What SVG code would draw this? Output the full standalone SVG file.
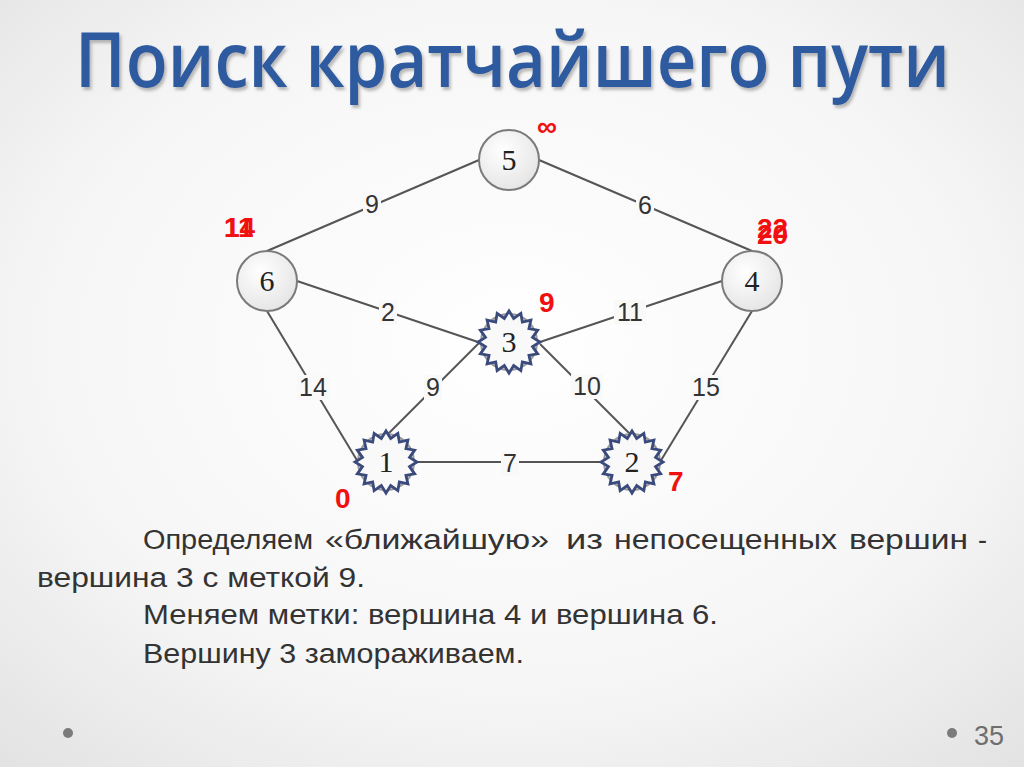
<svg xmlns="http://www.w3.org/2000/svg" xmlns:xlink="http://www.w3.org/1999/xlink" width="1024" height="767" viewBox="0 0 1024 767">
<defs>
<radialGradient id="bg" cx="0.5" cy="0.45" r="0.75">
<stop offset="0" stop-color="#ffffff"/>
<stop offset="0.6" stop-color="#f6f6f6"/>
<stop offset="1" stop-color="#e2e2e2"/>
</radialGradient>
<radialGradient id="nodefill" cx="0.4" cy="0.35" r="0.7">
<stop offset="0" stop-color="#ffffff"/>
<stop offset="1" stop-color="#e4e4e4"/>
</radialGradient>
<filter id="shadow" x="-10%" y="-50%" width="120%" height="200%">
<feDropShadow dx="2" dy="3" stdDeviation="1.5" flood-color="#777" flood-opacity="0.5"/>
</filter>
<polygon id="star" points="31,0 23.54,4.68 28.64,11.86 19.96,13.33 21.92,21.92 13.33,19.96 11.86,28.64 4.68,23.54 0,31 -4.68,23.54 -11.86,28.64 -13.33,19.96 -21.92,21.92 -19.96,13.33 -28.64,11.86 -23.54,4.68 -31,0 -23.54,-4.68 -28.64,-11.86 -19.96,-13.33 -21.92,-21.92 -13.33,-19.96 -11.86,-28.64 -4.68,-23.54 0,-31 4.68,-23.54 11.86,-28.64 13.33,-19.96 21.92,-21.92 19.96,-13.33 28.64,-11.86 23.54,-4.68"/>
</defs>
<style>
.edge{stroke:#555;stroke-width:2;fill:none}
.lbg{fill:#f9f9f9}
.elab{font-family:"Liberation Sans",Arial,sans-serif;font-size:25px;fill:#333;text-anchor:middle}
.circ{fill:url(#nodefill);stroke:#7a7a7a;stroke-width:2}
.halo{fill:#e6e6e6;stroke:#9a9a9a;stroke-width:2}
.st{fill:#fbfbfb;fill-opacity:0.92;stroke:#3b4a7c;stroke-width:2.8;stroke-linejoin:miter}
.num{font-family:"Liberation Serif","Times New Roman",serif;font-size:30px;fill:#222;text-anchor:middle}
.red{font-family:"Liberation Sans",Arial,sans-serif;font-weight:bold;font-size:28px;fill:#f01010}
.body{font-family:"Liberation Sans",Arial,sans-serif;font-size:27px;fill:#333}
</style>
<rect x="0" y="0" width="1024" height="767" fill="url(#bg)"/>
<g id="title" filter="url(#shadow)">
<text transform="translate(75,87) scale(1,1.16)" x="0" y="0" font-family="'Open Sans','Noto Sans',sans-serif" font-size="66" font-weight="600" fill="#2d5a9f" textLength="875" lengthAdjust="spacingAndGlyphs">Поиск кратчайшего пути</text>
</g>
<g id="connectors">
<line class="edge" x1="267" y1="251" x2="479" y2="160"/>
<line class="edge" x1="539" y1="160" x2="752" y2="251"/>
<line class="edge" x1="297" y1="281" x2="478" y2="342"/>
<line class="edge" x1="540" y1="342" x2="722" y2="281"/>
<line class="edge" x1="267" y1="311" x2="358" y2="462"/>
<line class="edge" x1="388" y1="434" x2="480" y2="342"/>
<line class="edge" x1="540" y1="344" x2="630" y2="434"/>
<line class="edge" x1="660" y1="462" x2="752" y2="311"/>
<line class="edge" x1="416" y1="462" x2="602" y2="462"/>
<rect class="lbg" x="363" y="192" width="18" height="25"/>
<rect class="lbg" x="636" y="193" width="18" height="25"/>
<rect class="lbg" x="379" y="300" width="18" height="25"/>
<rect class="lbg" x="614" y="300" width="32" height="25"/>
<rect class="lbg" x="297" y="375" width="32" height="25"/>
<rect class="lbg" x="424" y="375" width="18" height="25"/>
<rect class="lbg" x="571" y="374" width="32" height="25"/>
<rect class="lbg" x="690" y="375" width="32" height="25"/>
<rect class="lbg" x="501" y="451" width="18" height="25"/>
<text class="elab" x="372" y="213">9</text>
<text class="elab" x="645" y="214">6</text>
<text class="elab" x="388" y="321">2</text>
<text class="elab" x="630" y="321">11</text>
<text class="elab" x="313" y="396">14</text>
<text class="elab" x="433" y="396">9</text>
<text class="elab" x="587" y="395">10</text>
<text class="elab" x="706" y="396">15</text>
<text class="elab" x="510" y="472">7</text>
</g>
<g id="node5">
<circle class="circ" cx="509" cy="160" r="30"/>
<text class="num" x="509" y="170">5</text>
</g>
<g id="node6">
<circle class="circ" cx="267" cy="281" r="30"/>
<text class="num" x="267" y="291">6</text>
</g>
<g id="node4">
<circle class="circ" cx="752" cy="281" r="30"/>
<text class="num" x="752" y="291">4</text>
</g>
<g id="node3">
<circle class="halo" cx="509" cy="342" r="28"/>
<use xlink:href="#star" class="st" x="509" y="342"/>
<text class="num" x="509" y="352">3</text>
</g>
<g id="node1">
<circle class="halo" cx="386" cy="462" r="28"/>
<use xlink:href="#star" class="st" x="386" y="462"/>
<text class="num" x="386" y="472">1</text>
</g>
<g id="node2">
<circle class="halo" cx="632" cy="462" r="28"/>
<use xlink:href="#star" class="st" x="632" y="462"/>
<text class="num" x="632" y="472">2</text>
</g>
<g id="labels">
<text class="red" x="537" y="136" font-size="32" font-weight="normal">∞</text>
<text class="red" x="224" y="237">14</text>
<text class="red" x="224" y="237">11</text>
<text class="red" x="757" y="238">22</text>
<text class="red" x="757" y="244">20</text>
<text class="red" x="539" y="312">9</text>
<text class="red" x="335" y="508">0</text>
<text class="red" x="668" y="491">7</text>
</g>
<g id="bodytext" class="body">
<text x="143" y="549" textLength="170" lengthAdjust="spacingAndGlyphs">Определяем</text>
<text x="325" y="549" textLength="224" lengthAdjust="spacingAndGlyphs">«ближайшую»</text>
<text x="566" y="549" textLength="37" lengthAdjust="spacingAndGlyphs">из</text>
<text x="614" y="549" textLength="223" lengthAdjust="spacingAndGlyphs">непосещенных</text>
<text x="849" y="549" textLength="119" lengthAdjust="spacingAndGlyphs">вершин</text>
<text x="978" y="549">-</text>
<text x="37" y="587" textLength="328" lengthAdjust="spacingAndGlyphs">вершина 3 с меткой 9.</text>
<text x="143" y="624" textLength="575" lengthAdjust="spacingAndGlyphs">Меняем метки: вершина 4 и вершина 6.</text>
<text x="143" y="663" textLength="381" lengthAdjust="spacingAndGlyphs">Вершину 3 замораживаем.</text>
</g>
<g id="footer">
<circle cx="68" cy="733" r="5" fill="#7b7b7b"/>
<circle cx="952" cy="733" r="5" fill="#7b7b7b"/>
<text x="974" y="745" font-family="'Liberation Sans',Arial,sans-serif" font-size="27" fill="#6e6e6e">35</text>
</g>
</svg>
